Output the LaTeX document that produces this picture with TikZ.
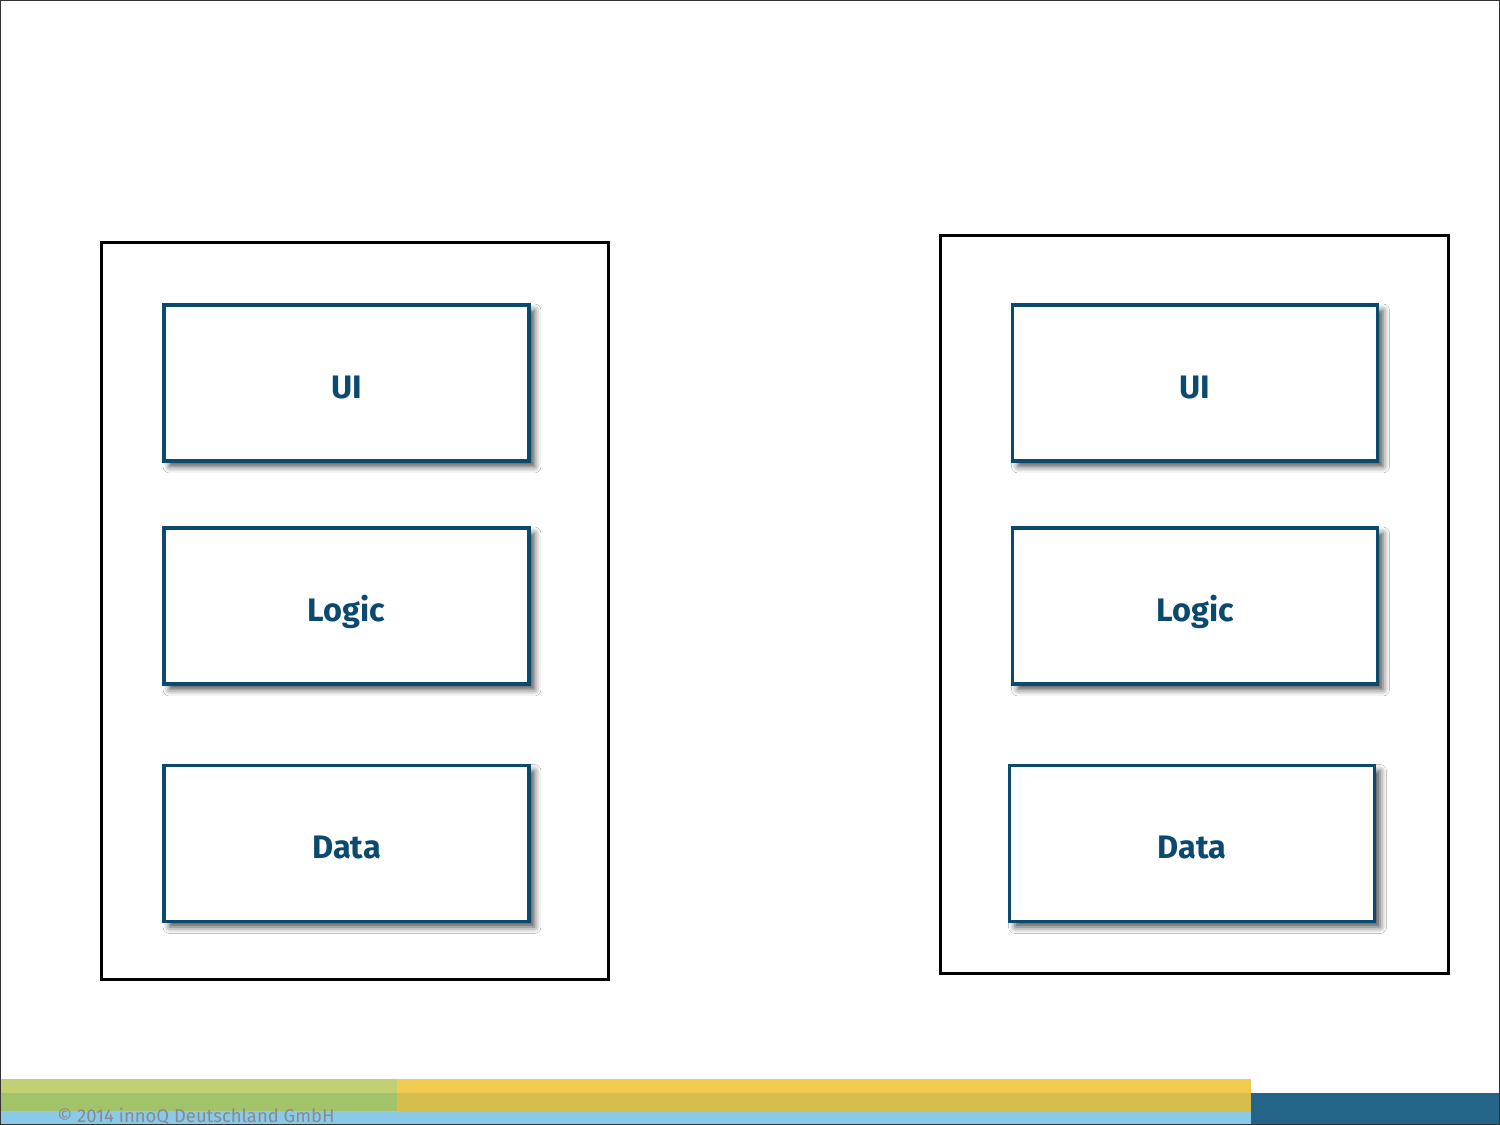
\documentclass[tikz,border=0pt]{standalone}
\usepackage{fontspec}
\setmainfont{Fira Sans}
\usepackage{xcolor}
\usetikzlibrary{shadows.blur}
\definecolor{innoblue}{HTML}{0B4A6E}
\definecolor{barlgreen}{HTML}{C0D072}
\definecolor{bargreen}{HTML}{A2C36A}
\definecolor{baryellow}{HTML}{F0CB52}
\definecolor{bardyellow}{HTML}{D5BE4C}
\definecolor{barblue}{HTML}{8ACAE8}
\definecolor{bardblue}{HTML}{246489}
\definecolor{footgray}{HTML}{8A8A8A}
\tikzstyle{sysbox} = [draw=black, fill=white, line width=0.06cm,
rectangle, minimum width=10.16cm, minimum height=14.76cm, inner sep=0pt]
\tikzstyle{layerbox} = [draw=innoblue, fill=white, line width=0.065cm,
rectangle, minimum width=7.3cm, minimum height=3.12cm, inner sep=0pt,
text=innoblue, font=\bfseries\fontsize{18.5}{22}\selectfont,
text height=0.7cm, text depth=0.1cm,
blur shadow={shadow xshift=0.11cm, shadow yshift=-0.11cm, shadow blur radius=0.13cm, shadow opacity=70}]
\tikzstyle{footer} = [text=footgray, font=\fontsize{10.5}{12}\selectfont, inner sep=0pt, anchor=base west]

\begin{document}
\begin{tikzpicture}[x=0.02cm, y=-0.02cm]
        \useasboundingbox (0,0) rectangle (1500,1125);
        % bars at the bottom
        \fill[barlgreen] (0,1079) rectangle (397,1093);
        \fill[bargreen] (0,1093) rectangle (397,1111);
        \fill[baryellow] (397,1079) rectangle (1251,1093);
        \fill[bardyellow] (397,1093) rectangle (1251,1111);
        \fill[barblue] (0,1111) rectangle (1251,1125);
        \fill[bardblue] (1251,1093) rectangle (1500,1125);
        \node[footer] (copy) at (57,1122) {© 2014 innoQ Deutschland GmbH};
        % left system
        \node [sysbox] (leftsys) at (355,611) {};
        \node [layerbox] (leftui) at (346.5,383) {UI};
        \node [layerbox] (leftlogic) at (346.5,606) {Logic};
        \node [layerbox] (leftdata) at (346.5,843.5) {Data};
        % right system
        \node [sysbox] (rightsys) at (1194.5,604.5) {};
        \node [layerbox] (rightui) at (1195,383) {UI};
        \node [layerbox] (rightlogic) at (1195,606) {Logic};
        \node [layerbox] (rightdata) at (1192,843.5) {Data};
        % frame
        \draw[black!80, line width=0.04cm] (0.5,0.5) rectangle (1499.5,1124.5);
    \end{tikzpicture}
\end{document}
